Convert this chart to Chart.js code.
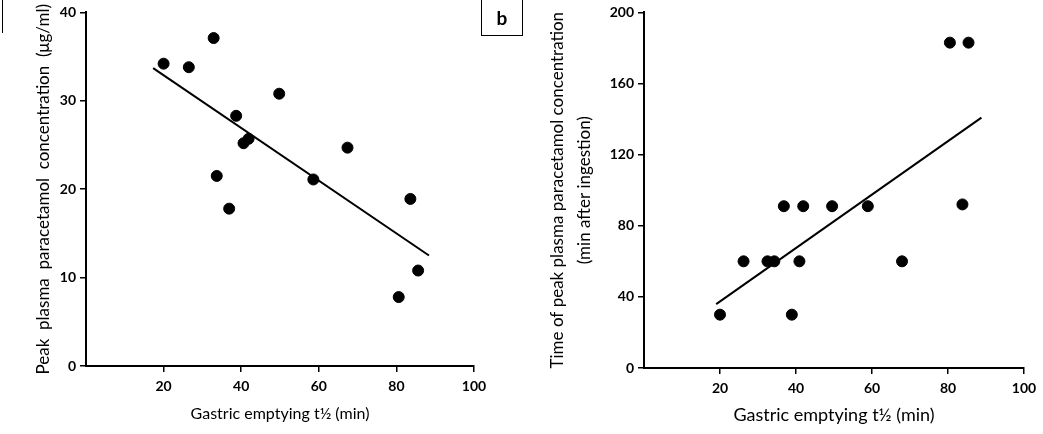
<!DOCTYPE html>
<html>
<head>
<meta charset="utf-8">
<script src="https://cdn.jsdelivr.net/npm/chart.js@4"></script>
<style>
  body { margin: 0; background: #fff; }
  #wrap { position: relative; width: 1043px; height: 434px; overflow: hidden; }
  canvas { position: absolute; top: 0; }
  #left { left: 0; }
  #right { left: 520px; }
  #tagB { position: absolute; left: 481px; top: -2px; width: 40px; height: 36px; border: 1px solid #000;
          font: bold 19px Lato, sans-serif; text-align: center; line-height: 38px; color: #000; }
  #edgeA { position: absolute; left: 2px; top: 0; height: 33px; border-left: 1px solid #000; }
</style>
</head>
<body>
<div id="wrap">
  <canvas id="left" width="520" height="434"></canvas>
  <canvas id="right" width="523" height="434"></canvas>
  <div id="edgeA"></div>
  <div id="tagB">b</div>
</div>
<script>
// shared x axis
const xTicks = [20, 40, 60, 80, 100];

// panel a: peak concentration vs gastric emptying
const peakTicks = [0, 10, 20, 30, 40];
const peakX = [20, 26.5, 32.9, 49.8, 38.7, 40.6, 41.9, 33.7, 36.9, 58.6, 67.4, 83.6, 80.6, 85.6];
const peakY = [34.2, 33.8, 37.1, 30.8, 28.3, 25.2, 25.7, 21.5, 17.8, 21.1, 24.7, 18.9, 7.8, 10.8];
const peakFitX = [17.3, 88.4];
const peakFitY = [33.7, 12.5];

// panel b: time of peak vs gastric emptying
const timeTicks = [0, 40, 80, 120, 160, 200];
const timeX = [20, 26.2, 32.5, 34.3, 36.8, 38.9, 40.9, 41.9, 49.5, 58.9, 67.9, 80.5, 85.4, 83.8];
const timeY = [30, 60, 60, 60, 91, 30, 60, 91, 91, 91, 60, 183, 183, 92];
const timeFitX = [19, 88.8];
const timeFitY = [35.9, 140.8];

const tickFont = { family: "Lato", size: 14, weight: "bold" };

function pts(xs, ys) {
  return xs.map((x, i) => ({ x: x, y: ys[i] }));
}

function drawPanel(id, o) {
  new Chart(document.getElementById(id), {
    type: "scatter",
    data: {
      datasets: [
        { data: pts(o.xs, o.ys), backgroundColor: "#000", borderColor: "#000", pointRadius: 5.5 },
        { data: pts(o.fitX, o.fitY), showLine: true, pointRadius: 0, borderColor: "#000", borderWidth: 2 }
      ]
    },
    options: {
      responsive: false,
      animation: false,
      layout: { padding: { top: o.top, right: o.right } },
      plugins: { legend: { display: false }, tooltip: { enabled: false } },
      scales: {
        x: {
          type: "linear", min: 0, max: 100,
          afterBuildTicks: (s) => { s.ticks = xTicks.map((v) => ({ value: v })); },
          afterFit: (s) => { s.height = o.bottom; },
          grid: { drawOnChartArea: false, tickLength: 6, color: "#000", lineWidth: 1.5 },
          border: { color: "#000", width: 2 },
          ticks: { color: "#000", font: tickFont, padding: 6, maxRotation: 0 },
          title: { display: true, text: "Gastric emptying t½ (min)", color: "#000", font: o.xFont,
                   padding: { top: 0, bottom: o.xPad } }
        },
        y: {
          type: "linear", min: 0, max: o.ymax,
          afterBuildTicks: (s) => { s.ticks = o.yTicks.map((v) => ({ value: v })); },
          afterFit: (s) => { s.width = o.left; },
          grid: { drawOnChartArea: false, tickLength: 6, color: "#000", lineWidth: 1.5 },
          border: { color: "#000", width: 2 },
          ticks: { color: "#000", font: tickFont, padding: 4 },
          title: { display: true, text: o.yTitle, color: "#000", font: o.yFont,
                   padding: { top: o.titlePad, bottom: 0 } }
        }
      }
    }
  });
}

drawPanel("left", {
  xs: peakX, ys: peakY, fitX: peakFitX, fitY: peakFitY,
  yTicks: peakTicks, ymax: 40,
  top: 12, right: 46, left: 86, bottom: 68,
  xFont: { family: "Lato", size: 16 }, xPad: 11,
  yTitle: "Peak  plasma  paracetamol  concentration  (μg/ml)",
  yFont: { family: "Lato", size: 17 }, titlePad: 33
});

drawPanel("right", {
  xs: timeX, ys: timeY, fitX: timeFitX, fitY: timeFitY,
  yTicks: timeTicks, ymax: 200,
  top: 10, right: 19, left: 124, bottom: 66,
  xFont: { family: "Lato", size: 18 }, xPad: 8,
  yTitle: ["Time of peak plasma paracetamol concentration", "(min after ingestion)"],
  yFont: { family: "Lato", size: 17, lineHeight: 1.6 }, titlePad: 24
});
</script>
</body>
</html>
